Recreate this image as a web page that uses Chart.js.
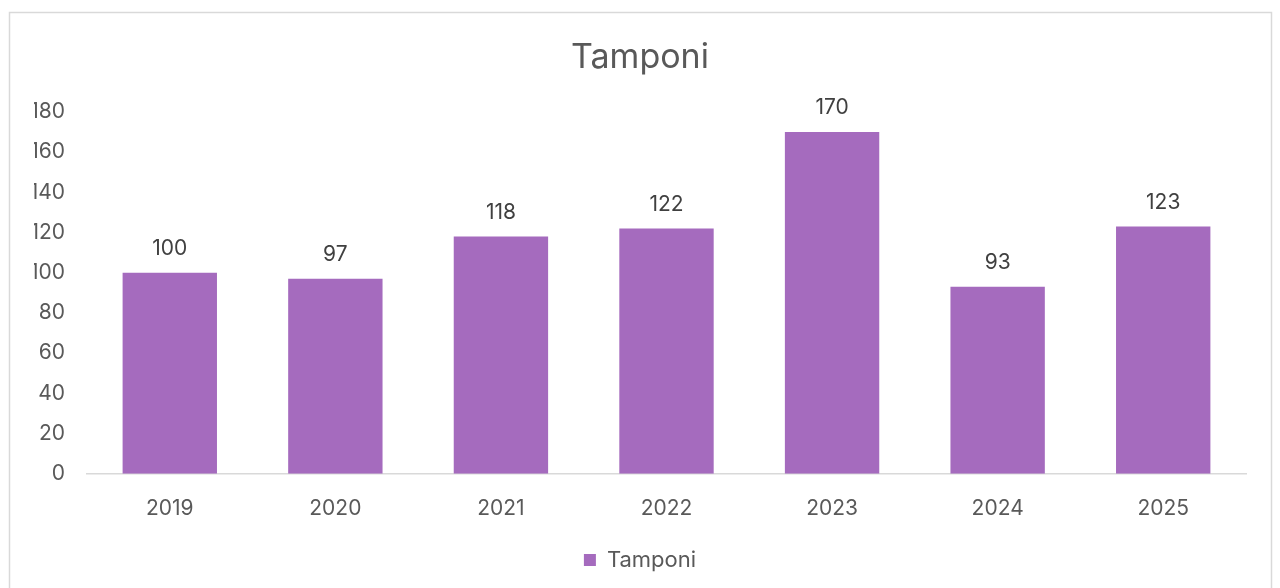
<!DOCTYPE html>
<html>
<head>
<meta charset="utf-8">
<script src="https://cdn.jsdelivr.net/npm/chart.js@4"></script>
<style>
	html, body { margin: 0; padding: 0; background: #ffffff; }
	#wrap { width: 1280px; height: 588px; position: relative; }
</style>
</head>
<body>
<div id="wrap"><canvas id="chartTamponi"></canvas></div>
<script>
// Chart data
const years = ["2019", "2020", "2021", "2022", "2023", "2024", "2025"];
const tamponi = [100, 97, 118, 122, 170, 93, 123];
const yTicks = [0, 20, 40, 60, 80, 100, 120, 140, 160, 180];

const barColor = "#a56bbe";
const textColor = "#595959";
const fontFamily = "Inter, 'Open Sans', sans-serif";

// Draws the white background and the light frame round the chart
const framePlugin = {
	id: "frame",
	beforeDraw(chart) {
		const ctx = chart.ctx;
		ctx.save();
		ctx.fillStyle = "#ffffff";
		ctx.fillRect(0, 0, chart.width, chart.height);
		ctx.strokeStyle = "#d9d9d9";
		ctx.lineWidth = 1.5;
		ctx.strokeRect(9.5, 12.5, 1262, 600);
		ctx.restore();
	},
};

// Writes the value above every bar
const valueLabels = {
	id: "valueLabels",
	afterDatasetsDraw(chart) {
		const ctx = chart.ctx;
		const meta = chart.getDatasetMeta(0);
		ctx.save();
		ctx.fillStyle = "#404040";
		ctx.font = `21px ${fontFamily}`;
		ctx.textAlign = "center";
		ctx.textBaseline = "middle";
		meta.data.forEach((bar, i) => {
			ctx.fillText(String(tamponi[i]), bar.x, bar.y - 24);
		});
		ctx.restore();
	},
};

new Chart(document.getElementById("chartTamponi"), {
	type: "bar",
	data: {
		labels: years,
		datasets: [
			{
				label: "Tamponi",
				data: tamponi,
				backgroundColor: barColor,
				borderWidth: 0,
				categoryPercentage: 1,
				barPercentage: 0.57,
			},
		],
	},
	options: {
		responsive: true,
		maintainAspectRatio: false,
		animation: false,
		layout: {
			padding: { left: 34, right: 34, top: 10, bottom: 7 },
		},
		plugins: {
			title: {
				display: true,
				text: "Tamponi",
				color: textColor,
				font: { size: 34, family: fontFamily, weight: "normal" },
				padding: { top: 27, bottom: 34 },
			},
			legend: {
				display: true,
				position: "bottom",
				labels: {
					color: textColor,
					font: { size: 22, family: fontFamily },
					boxWidth: 12,
					boxHeight: 12,
					padding: 6,
				},
			},
			tooltip: { enabled: false },
		},
		scales: {
			x: {
				grid: { display: false, drawTicks: false },
				border: { display: true, color: "#d9d9d9", width: 1.5 },
				ticks: {
					color: textColor,
					font: { size: 21, family: fontFamily },
					padding: 22,
				},
			},
			y: {
				min: 0,
				max: 180,
				afterFit(scale) {
					scale.width = 53;
				},
				afterBuildTicks(scale) {
					scale.ticks = yTicks.map((v) => ({ value: v }));
				},
				grid: { display: false, drawTicks: false },
				border: { display: false },
				ticks: {
					color: textColor,
					font: { size: 21, family: fontFamily },
					padding: 22,
				},
			},
		},
	},
	plugins: [framePlugin, valueLabels],
});
</script>
</body>
</html>
